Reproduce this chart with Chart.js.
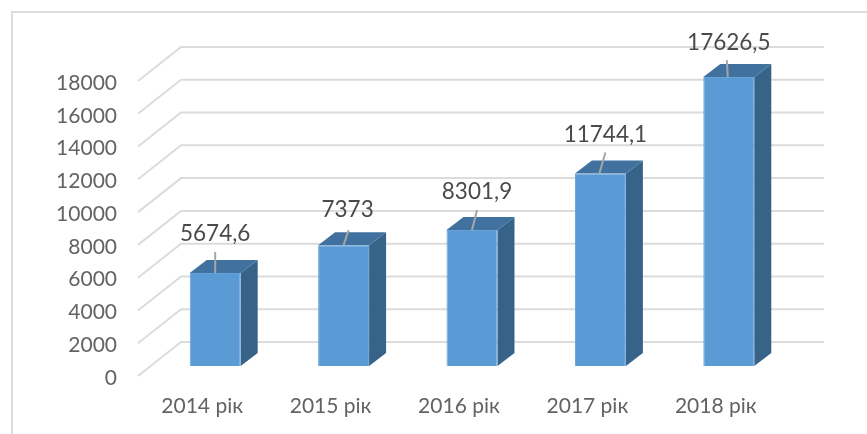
<!DOCTYPE html>
<html>
<head>
<meta charset="utf-8">
<style>
html, body { margin: 0; padding: 0; background: #fff; }
#wrap { width: 867px; height: 434px; }
</style>
<script src="https://cdn.jsdelivr.net/npm/chart.js@4"></script>
</head>
<body>
<div id="wrap"><canvas id="myChart" width="867" height="434"></canvas></div>
<script>
const categories = ['2014 рік', '2015 рік', '2016 рік', '2017 рік', '2018 рік'];
const values = [5674.6, 7373, 8301.9, 11744.1, 17626.5];
const valueLabels = ['5674,6', '7373', '8301,9', '11744,1', '17626,5'];

// label centre and leader line, relative to the middle of the bar top
const labelShift = [[0, -39], [4, -35], [5, -38], [5, -39], [0, -34]];
const leaderBase = [0, 0, 0, -1, -1];
const leaderTip = [[0, -21], [5, -15], [5, -20], [6, -21], [-1, -17]];

const FONT = 'Lato';
const floorDx = 13, floorDy = 10;    // bar plane -> front edge of the floor
const wallDx = 30, wallDy = 24;      // bar plane -> back wall
const sideDx = 17, sideDy = 13;      // depth of a bar

function face(ctx, pts, color) {
    ctx.fillStyle = color;
    ctx.beginPath();
    pts.forEach((p, i) => i ? ctx.lineTo(p[0], p[1]) : ctx.moveTo(p[0], p[1]));
    ctx.closePath();
    ctx.fill();
}

const scene3d = {
    id: 'scene3d',
    beforeDraw(chart) {
        const ctx = chart.ctx;
        ctx.save();
        ctx.strokeStyle = '#dcdcdc';
        ctx.lineWidth = 2;
        ctx.beginPath();
        ctx.moveTo(12, 434);
        ctx.lineTo(12, 12);
        ctx.lineTo(867, 12);
        ctx.stroke();
        ctx.restore();
    },
    beforeDatasetsDraw(chart) {
        const ctx = chart.ctx, y = chart.scales.y, area = chart.chartArea;
        ctx.save();
        ctx.strokeStyle = '#dcdcdc';
        ctx.lineWidth = 2;
        y.ticks.forEach(t => {
            const py = y.getPixelForValue(t.value);
            ctx.beginPath();
            ctx.moveTo(area.left - floorDx, py + floorDy);
            ctx.lineTo(area.left + wallDx, py - wallDy);
            ctx.lineTo(area.right + wallDx + 1, py - wallDy);
            ctx.stroke();
        });
        chart.getDatasetMeta(0).data.forEach(bar => {
            const l = bar.x - bar.width / 2, r = bar.x + bar.width / 2;
            face(ctx, [[r, bar.y], [r + sideDx, bar.y - sideDy], [r + sideDx, bar.base - sideDy], [r, bar.base]], '#386389');
            face(ctx, [[l, bar.y], [l + sideDx, bar.y - sideDy], [r + sideDx, bar.y - sideDy], [r, bar.y]], '#40719f');
        });
        ctx.restore();
    },
    afterDatasetsDraw(chart) {
        const ctx = chart.ctx;
        ctx.save();
        ctx.font = '22.5px ' + FONT;
        ctx.textAlign = 'center';
        ctx.textBaseline = 'middle';
        chart.getDatasetMeta(0).data.forEach((bar, i) => {
            ctx.strokeStyle = '#a6a6a6';
            ctx.lineWidth = 2;
            ctx.beginPath();
            ctx.moveTo(bar.x + leaderBase[i], bar.y);
            ctx.lineTo(bar.x + leaderBase[i] + leaderTip[i][0], bar.y + leaderTip[i][1]);
            ctx.stroke();
            ctx.fillStyle = '#4a4a4a';
            ctx.fillText(valueLabels[i], bar.x + labelShift[i][0], bar.y + labelShift[i][1]);
        });
        ctx.restore();
    }
};

new Chart(document.getElementById('myChart'), {
    type: 'bar',
    data: {
        labels: categories,
        datasets: [{
            data: values,
            backgroundColor: '#5b9bd5',
            borderColor: '#66a3da',
            borderWidth: 1,
            barPercentage: 0.397,
            categoryPercentage: 1
        }]
    },
    options: {
        responsive: false,
        animation: false,
        layout: { padding: { top: 71, right: 74, left: 0, bottom: 0 } },
        plugins: { legend: { display: false }, tooltip: { enabled: false } },
        scales: {
            x: {
                grid: { display: false },
                border: { display: false },
                afterFit(scale) { scale.height = 68; },
                ticks: { color: '#636363', font: { family: FONT, size: 21 }, padding: 20, labelOffset: -13, maxRotation: 0 }
            },
            y: {
                min: 0,
                max: 18000,
                grid: { display: false, drawTicks: false },
                border: { display: false },
                afterFit(scale) { scale.width = 151; },
                ticks: { stepSize: 2000, color: '#636363', font: { family: FONT, size: 21 }, padding: 34, labelOffset: 12, callback: v => String(v) }
            }
        }
    },
    plugins: [scene3d]
});
</script>
</body>
</html>
